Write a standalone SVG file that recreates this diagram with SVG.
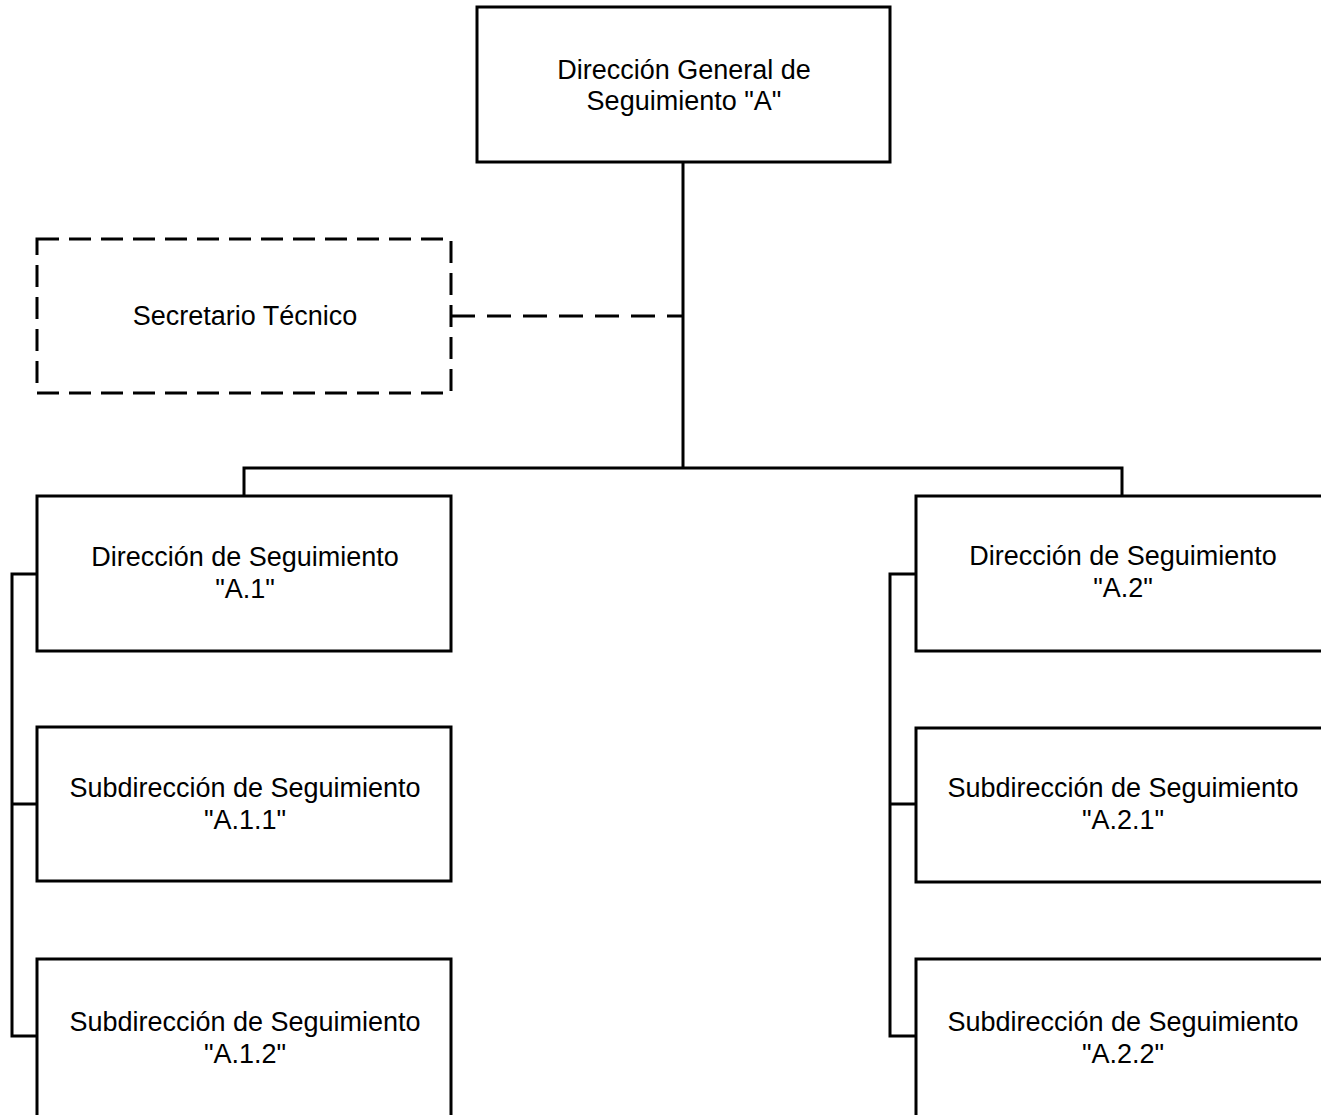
<svg xmlns="http://www.w3.org/2000/svg" width="1321" height="1115" viewBox="0 0 1321 1115">
<style>
.box{fill:#fff;stroke:#000;stroke-width:3}
.dash{fill:#fff;stroke:#000;stroke-width:3;stroke-dasharray:22 10}
.ln{fill:none;stroke:#000;stroke-width:3}
.dln{fill:none;stroke:#000;stroke-width:3;stroke-dasharray:24 12}
text{font-family:"Liberation Sans",Arial,sans-serif;font-size:27px;fill:#000;text-anchor:middle}
</style>
<rect width="1321" height="1115" fill="#fff"/>
<g id="connectors">
<path class="ln" d="M683 162V468M244 496V468H1122V496"/>
<path class="dln" d="M451 316H683"/>
<path class="ln" d="M37 574H12V1036H37M12 804H37"/>
<path class="ln" d="M916 574H890V1036H916M890 804H916"/>
</g>
<g id="n-dg"><rect class="box" x="477" y="7" width="413" height="155"/><text x="684" y="79">Dirección General de</text><text x="684" y="110">Seguimiento "A"</text></g>
<g id="n-st"><rect class="dash" x="37" y="239" width="414" height="154"/><text x="245" y="325">Secretario Técnico</text></g>
<g id="n-a1"><rect class="box" x="37" y="496" width="414" height="155"/><text x="245" y="566">Dirección de Seguimiento</text><text x="245" y="598">"A.1"</text></g>
<g id="n-a11"><rect class="box" x="37" y="727" width="414" height="154"/><text x="245" y="797">Subdirección de Seguimiento</text><text x="245" y="829">"A.1.1"</text></g>
<g id="n-a12"><rect class="box" x="37" y="959" width="414" height="170"/><text x="245" y="1031">Subdirección de Seguimiento</text><text x="245" y="1063">"A.1.2"</text></g>
<g id="n-a2"><rect class="box" x="916" y="496" width="414" height="155"/><text x="1123" y="565">Dirección de Seguimiento</text><text x="1123" y="597">"A.2"</text></g>
<g id="n-a21"><rect class="box" x="916" y="728" width="414" height="154"/><text x="1123" y="797">Subdirección de Seguimiento</text><text x="1123" y="829">"A.2.1"</text></g>
<g id="n-a22"><rect class="box" x="916" y="959" width="414" height="170"/><text x="1123" y="1031">Subdirección de Seguimiento</text><text x="1123" y="1063">"A.2.2"</text></g>
</svg>
